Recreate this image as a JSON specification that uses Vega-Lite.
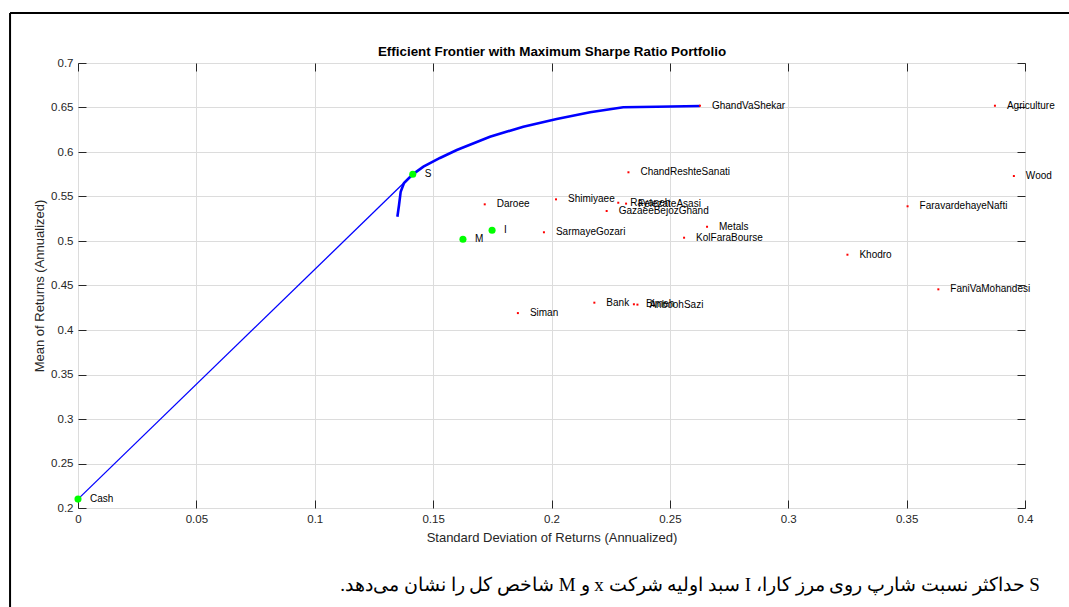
{
  "$schema": "https://vega.github.io/schema/vega-lite/v6.json",
  "autosize": {"type": "none"},
  "width": 947,
  "height": 445,
  "padding": {"left": 78, "top": 63, "right": 44, "bottom": 99},
  "background": "white",
  "datasets": {
    "frontier": [
      {"sd": 0.1349, "mean": 0.5273},
      {"sd": 0.1356, "mean": 0.5404},
      {"sd": 0.1363, "mean": 0.5554},
      {"sd": 0.1377, "mean": 0.5652},
      {"sd": 0.1414, "mean": 0.5749},
      {"sd": 0.1459, "mean": 0.5835},
      {"sd": 0.1529, "mean": 0.5933},
      {"sd": 0.16, "mean": 0.6022},
      {"sd": 0.174, "mean": 0.6172},
      {"sd": 0.1881, "mean": 0.6284},
      {"sd": 0.2022, "mean": 0.6371},
      {"sd": 0.2163, "mean": 0.6446},
      {"sd": 0.2303, "mean": 0.6502},
      {"sd": 0.2444, "mean": 0.6509},
      {"sd": 0.2627, "mean": 0.6517}
    ],
    "cml": [
      {"sd": 0, "mean": 0.21},
      {"sd": 0.1414, "mean": 0.5749}
    ],
    "assets": [
      {"name": "GhandVaShekar", "sd": 0.2627, "mean": 0.652},
      {"name": "Agriculture", "sd": 0.3873, "mean": 0.652},
      {"name": "Wood", "sd": 0.3953, "mean": 0.573},
      {"name": "FaravardehayeNafti", "sd": 0.3504, "mean": 0.539},
      {"name": "Khodro", "sd": 0.325, "mean": 0.4846},
      {"name": "FaniVaMohandesi", "sd": 0.3634, "mean": 0.4457},
      {"name": "ChandReshteSanati", "sd": 0.2325, "mean": 0.5772},
      {"name": "Daroee", "sd": 0.1718, "mean": 0.5412},
      {"name": "Shimiyaee", "sd": 0.2019, "mean": 0.5468},
      {"name": "Rayaneh", "sd": 0.2282, "mean": 0.543},
      {"name": "FelezateAsasi", "sd": 0.2315, "mean": 0.542},
      {"name": "GazaeeBejozGhand", "sd": 0.2233, "mean": 0.5337},
      {"name": "Metals", "sd": 0.2657, "mean": 0.516},
      {"name": "KolFaraBourse", "sd": 0.256, "mean": 0.5037},
      {"name": "SarmayeGozari", "sd": 0.1968, "mean": 0.5098},
      {"name": "Bank", "sd": 0.2181, "mean": 0.4307},
      {"name": "Bimeh", "sd": 0.2348, "mean": 0.4289},
      {"name": "AnboohSazi", "sd": 0.2363, "mean": 0.4285},
      {"name": "Siman", "sd": 0.1858, "mean": 0.419}
    ],
    "special": [
      {"name": "Cash", "sd": 0, "mean": 0.21},
      {"name": "S", "sd": 0.1414, "mean": 0.5749},
      {"name": "M", "sd": 0.1626, "mean": 0.502},
      {"name": "I", "sd": 0.1749, "mean": 0.512}
    ],
    "caption": [
      {"text": "‫S حداکثر نسبت شارپ روی مرز کارا، I سبد اولیه شرکت x و M شاخص کل را نشان می‌دهد.‬", "sd": 0.4063, "mean": 0.1135}
    ]
  },
  "resolve": {"axis": {"x": "independent", "y": "independent"}},
  "layer": [
    {
      "layer": [
        {
          "data": {"name": "frontier"},
          "mark": {"type": "line", "color": "#0000ff", "strokeWidth": 2.6, "clip": false},
          "encoding": {
            "x": {"field": "sd", "type": "quantitative", "scale": {"domain": [0, 0.4], "nice": false, "zero": false},
              "axis": {"orient": "bottom", "values": [0, 0.05, 0.1, 0.15, 0.2, 0.25, 0.3, 0.35, 0.4], "format": "~g", "labelFlush": false, "title": "Standard Deviation of Returns (Annualized)", "titlePadding": 7}},
            "y": {"field": "mean", "type": "quantitative", "scale": {"domain": [0.2, 0.7], "nice": false, "zero": false},
              "axis": {"orient": "left", "values": [0.2, 0.25, 0.3, 0.35, 0.4, 0.45, 0.5, 0.55, 0.6, 0.65, 0.7], "format": "~g", "labelFlush": false, "title": "Mean of Returns (Annualized)", "titlePadding": 4}},
            "order": {"field": "sd"}
          }
        },
        {
          "data": {"name": "cml"},
          "mark": {"type": "line", "color": "#0000ff", "strokeWidth": 1.3},
          "encoding": {
            "x": {"field": "sd", "type": "quantitative"},
            "y": {"field": "mean", "type": "quantitative"}
          }
        },
        {
          "data": {"name": "assets"},
          "mark": {"type": "point", "shape": "square", "filled": true, "color": "#ff0000", "size": 4, "opacity": 1},
          "encoding": {
            "x": {"field": "sd", "type": "quantitative"},
            "y": {"field": "mean", "type": "quantitative"}
          }
        },
        {
          "data": {"name": "assets"},
          "mark": {"type": "text", "align": "left", "baseline": "middle", "dx": 12, "font": "Liberation Sans", "fontSize": 10, "color": "#000000"},
          "encoding": {
            "x": {"field": "sd", "type": "quantitative"},
            "y": {"field": "mean", "type": "quantitative"},
            "text": {"field": "name"}
          }
        },
        {
          "data": {"name": "special"},
          "mark": {"type": "point", "shape": "circle", "filled": true, "color": "#00ff00", "size": 50, "opacity": 1},
          "encoding": {
            "x": {"field": "sd", "type": "quantitative"},
            "y": {"field": "mean", "type": "quantitative"}
          }
        },
        {
          "data": {"name": "special"},
          "mark": {"type": "text", "align": "left", "baseline": "middle", "dx": 12, "font": "Liberation Sans", "fontSize": 10, "color": "#000000"},
          "encoding": {
            "x": {"field": "sd", "type": "quantitative"},
            "y": {"field": "mean", "type": "quantitative"},
            "text": {"field": "name"}
          }
        },
        {
          "data": {"values": [{"a": 1}]},
          "mark": {"type": "rule", "color": "#000000", "strokeWidth": 2, "clip": false},
          "encoding": {
            "x": {"datum": -0.0287},
            "y": {"datum": 0.7562},
            "y2": {"datum": 0.05}
          }
        },
        {
          "data": {"values": [{"a": 1}]},
          "mark": {"type": "rule", "color": "#000000", "strokeWidth": 2, "clip": false},
          "encoding": {
            "x": {"datum": -0.0287},
            "x2": {"datum": 0.43},
            "y": {"datum": 0.7562}
          }
        },
        {
          "data": {"name": "caption"},
          "mark": {"type": "text", "align": "right", "baseline": "middle", "font": "Liberation Serif", "fontSize": 19, "color": "#000000"},
          "encoding": {
            "x": {"field": "sd", "type": "quantitative"},
            "y": {"field": "mean", "type": "quantitative"},
            "text": {"field": "text"}
          }
        }
      ]
    },
    {
      "data": {"name": "special"},
      "mark": {"type": "point", "opacity": 0},
      "encoding": {
        "x": {"field": "sd", "type": "quantitative", "axis": {"orient": "top", "values": [0, 0.05, 0.1, 0.15, 0.2, 0.25, 0.3, 0.35, 0.4], "labels": false, "grid": false, "title": "Efficient Frontier with Maximum Sharpe Ratio Portfolio", "titleFontWeight": "bold", "titleFontSize": 13.4, "titleColor": "#000000", "titlePadding": 4}},
        "y": {"field": "mean", "type": "quantitative", "axis": {"orient": "right", "values": [0.2, 0.25, 0.3, 0.35, 0.4, 0.45, 0.5, 0.55, 0.6, 0.65, 0.7], "labels": false, "grid": false, "title": null}}
      }
    }
  ],
  "config": {
    "view": {"stroke": "#262626", "strokeWidth": 1},
    "axis": {
      "domain": false,
      "grid": true,
      "gridColor": "#dcdcdc",
      "gridWidth": 1,
      "tickColor": "#262626",
      "tickSize": -8,
      "tickWidth": 1,
      "labelFont": "Liberation Sans",
      "labelFontSize": 11.5,
      "labelColor": "#262626",
      "labelPadding": 13,
      "titleFont": "Liberation Sans",
      "titleFontSize": 13,
      "titleFontWeight": "normal",
      "titleColor": "#262626"
    }
  }
}
